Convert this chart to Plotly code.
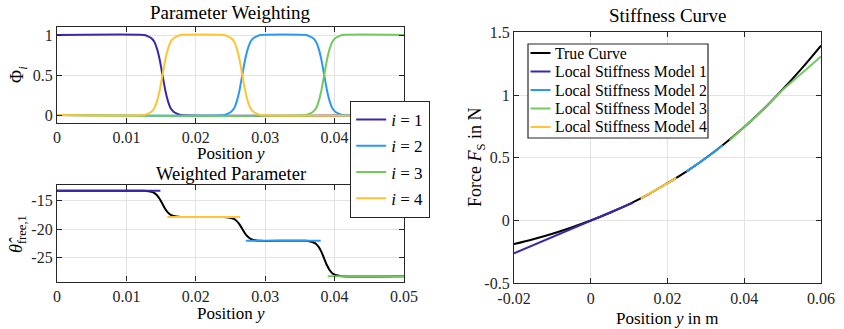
import plotly.graph_objects as go

FONT = "Liberation Serif, DejaVu Serif, serif"
AXC = "#262626"
GRID = "#e3e3e3"
C_PUR = "#3E26A8"
C_BLU = "#2B99F0"
C_GRN = "#72C95E"
C_YEL = "#FEC433"

# ---------------- Parameter Weighting (Phi_i) ----------------
phi1_x = [0, 0.0126, 0.0132, 0.0136, 0.0140, 0.0144, 0.0148, 0.0152, 0.0156, 0.0160, 0.0164, 0.0168, 0.0172, 0.0178, 0.05]
phi1_y = [1, 1, 0.98, 0.96, 0.92, 0.83, 0.69, 0.5, 0.31, 0.17, 0.08, 0.04, 0.02, 0, 0]

phi2_x = [0, 0.0241, 0.0247, 0.0251, 0.0255, 0.0259, 0.0263, 0.0267, 0.0271, 0.0275, 0.0279, 0.0283, 0.0287, 0.0293,
          0.0359, 0.0365, 0.0369, 0.0373, 0.0377, 0.0381, 0.0385, 0.0389, 0.0393, 0.0397, 0.0401, 0.0405, 0.0411, 0.05]
phi2_y = [0, 0, 0.02, 0.04, 0.08, 0.17, 0.31, 0.5, 0.69, 0.83, 0.92, 0.96, 0.98, 1,
          1, 0.98, 0.96, 0.92, 0.83, 0.69, 0.5, 0.31, 0.17, 0.08, 0.04, 0.02, 0, 0]

phi3_x = [0, 0.0359, 0.0365, 0.0369, 0.0373, 0.0377, 0.0381, 0.0385, 0.0389, 0.0393, 0.0397, 0.0401, 0.0405, 0.0411, 0.05]
phi3_y = [0, 0, 0.02, 0.04, 0.08, 0.17, 0.31, 0.5, 0.69, 0.83, 0.92, 0.96, 0.98, 1, 1]

phi4_x = [0, 0.0126, 0.0132, 0.0136, 0.0140, 0.0144, 0.0148, 0.0152, 0.0156, 0.0160, 0.0164, 0.0168, 0.0172, 0.0178,
          0.0241, 0.0247, 0.0251, 0.0255, 0.0259, 0.0263, 0.0267, 0.0271, 0.0275, 0.0279, 0.0283, 0.0287, 0.0293, 0.05]
phi4_y = [0, 0, 0.02, 0.04, 0.08, 0.17, 0.31, 0.5, 0.69, 0.83, 0.92, 0.96, 0.98, 1,
          1, 0.98, 0.96, 0.92, 0.83, 0.69, 0.5, 0.31, 0.17, 0.08, 0.04, 0.02, 0, 0]

# ---------------- Weighted Parameter ----------------
wp_x = [0, 0.0126, 0.0132, 0.0136, 0.0140, 0.0144, 0.0148, 0.0152, 0.0156, 0.0160, 0.0164, 0.0168, 0.0172, 0.0178,
        0.0241, 0.0247, 0.0251, 0.0255, 0.0259, 0.0263, 0.0267, 0.0271, 0.0275, 0.0279, 0.0283, 0.0287, 0.0293,
        0.0359, 0.0365, 0.0369, 0.0373, 0.0377, 0.0381, 0.0385, 0.0389, 0.0393, 0.0397, 0.0401, 0.0405, 0.0411, 0.05]
wp_y = [-13.23, -13.23, -13.32, -13.42, -13.60, -14.02, -14.67, -15.56, -16.44, -17.09, -17.51, -17.69, -17.79, -17.88,
        -17.88, -17.96, -18.05, -18.22, -18.60, -19.19, -19.99, -20.79, -21.38, -21.76, -21.93, -22.02, -22.10,
        -22.10, -22.23, -22.35, -22.60, -23.17, -24.04, -25.24, -26.43, -27.30, -27.87, -28.12, -28.25, -28.37, -28.37]

lvl1_x, lvl1_y = [0, 0.0149], [-13.23, -13.23]
lvl4_x, lvl4_y = [0.0159, 0.0264], [-17.88, -17.88]
lvl2_x, lvl2_y = [0.0272, 0.0380], [-22.10, -22.10]
lvl3_x, lvl3_y = [0.0390, 0.05], [-28.37, -28.37]

# ---------------- Stiffness Curve ----------------
true_x = [-0.02, -0.015, -0.01, -0.005, 0, 0.005, 0.01, 0.015, 0.02, 0.025, 0.03, 0.035, 0.04, 0.045, 0.05, 0.055, 0.06]
true_y = [-0.188, -0.149, -0.105, -0.055, 0, 0.062, 0.131, 0.209, 0.298, 0.392, 0.498, 0.616, 0.745, 0.887, 1.045, 1.213, 1.394]

lsm1_x, lsm1_y = [-0.02, 0.011], [-0.262, 0.142]
lsm4_x, lsm4_y = [0.013, 0.0175, 0.0223], [0.177, 0.252, 0.340]
lsm2_x, lsm2_y = [0.0249, 0.0295, 0.0344], [0.390, 0.487, 0.600]
lsm3_x, lsm3_y = [0.0362, 0.04, 0.045, 0.05, 0.055, 0.06], [0.640, 0.745, 0.886, 1.040, 1.174, 1.307]

top_xticks = [0, 0.01, 0.02, 0.03, 0.04, 0.05]
top_xtext = ["0", "0.01", "0.02", "0.03", "0.04", "0.05"]
top_yticks = [0, 0.5, 1]
top_ytext = ["0", "0.5", "1"]
bot_yticks = [-25, -20, -15]
bot_ytext = ["-25", "-20", "-15"]
r_xticks = [-0.02, 0, 0.02, 0.04, 0.06]
r_xtext = ["-0.02", "0", "0.02", "0.04", "0.06"]
r_yticks = [-0.5, 0, 0.5, 1, 1.5]
r_ytext = ["-0.5", "0", "0.5", "1", "1.5"]

right_legend_names = ["True Curve", "Local Stiffness Model 1", "Local Stiffness Model 2",
                      "Local Stiffness Model 3", "Local Stiffness Model 4"]
right_legend_colors = ["black", C_PUR, C_BLU, C_GRN, C_YEL]

fig = go.Figure()
LW = 2

for i, (xs, ys, col) in enumerate([(phi1_x, phi1_y, C_PUR), (phi2_x, phi2_y, C_BLU),
                                    (phi3_x, phi3_y, C_GRN), (phi4_x, phi4_y, C_YEL)], start=1):
    fig.add_trace(go.Scatter(x=xs, y=ys, mode="lines", line=dict(color=col, width=LW, shape="spline", smoothing=0.5),
                             name=f"<i>i</i> = {i}", legendgroup=f"g{i}", showlegend=True,
                             xaxis="x", yaxis="y"))

fig.add_trace(go.Scatter(x=wp_x, y=wp_y, mode="lines", line=dict(color="black", width=LW, shape="spline", smoothing=0.5),
                         showlegend=False, xaxis="x2", yaxis="y2"))
for xs, ys, col in [(lvl1_x, lvl1_y, C_PUR), (lvl4_x, lvl4_y, C_YEL), (lvl2_x, lvl2_y, C_BLU), (lvl3_x, lvl3_y, C_GRN)]:
    fig.add_trace(go.Scatter(x=xs, y=ys, mode="lines", line=dict(color=col, width=LW),
                             showlegend=False, xaxis="x2", yaxis="y2"))

fig.add_trace(go.Scatter(x=true_x, y=true_y, mode="lines", line=dict(color="black", width=LW, shape="spline"),
                         name=right_legend_names[0], showlegend=False, xaxis="x3", yaxis="y3"))
for k, (xs, ys, col) in enumerate([(lsm1_x, lsm1_y, C_PUR), (lsm2_x, lsm2_y, C_BLU),
                                    (lsm3_x, lsm3_y, C_GRN), (lsm4_x, lsm4_y, C_YEL)], start=1):
    fig.add_trace(go.Scatter(x=xs, y=ys, mode="lines", line=dict(color=col, width=LW, shape="spline"),
                             name=right_legend_names[k], showlegend=False, xaxis="x3", yaxis="y3"))

W, H = 844, 329
def px(v):
    return v / W
def py(v):
    return 1 - v / H

ax_common = dict(showline=True, linecolor=AXC, linewidth=1.2, mirror="ticks", ticks="inside", ticklen=5,
                 tickcolor=AXC, showgrid=True, gridcolor=GRID, gridwidth=1, zeroline=False, automargin=False,
                 tickfont=dict(family=FONT, size=16, color=AXC), tickmode="array")

fig.update_layout(
    template="none",
    width=W, height=H, margin=dict(l=0, r=0, t=0, b=0, pad=0, autoexpand=False),
    paper_bgcolor="white", plot_bgcolor="white",
    font=dict(family=FONT, size=16, color="black"),
    xaxis=dict(domain=[px(57), px(404)], range=[0, 0.05], tickvals=top_xticks, ticktext=top_xtext, anchor="y", **ax_common),
    yaxis=dict(domain=[py(123), py(27)], range=[-0.1, 1.1], tickvals=top_yticks, ticktext=top_ytext, anchor="x", **ax_common),
    xaxis2=dict(domain=[px(57), px(404)], range=[0, 0.05], tickvals=top_xticks, ticktext=top_xtext, anchor="y2", **ax_common),
    yaxis2=dict(domain=[py(281.5), py(185)], range=[-29.3, -12.2], tickvals=bot_yticks, ticktext=bot_ytext, anchor="x2", **ax_common),
    xaxis3=dict(domain=[px(514), px(821)], range=[-0.02, 0.06], tickvals=r_xticks, ticktext=r_xtext, anchor="y3", **ax_common),
    yaxis3=dict(domain=[py(283.3), py(32.3)], range=[-0.5, 1.5], tickvals=r_yticks, ticktext=r_ytext, anchor="x3", **ax_common),
    legend=dict(x=px(350), y=py(100.7), xanchor="left", yanchor="top", bgcolor="white", bordercolor=AXC, borderwidth=1.2,
                font=dict(family=FONT, size=17, color="black"), tracegroupgap=1.2, itemwidth=30),
    showlegend=True,
)

ann = []
def txt(x, y, s, size=16, angle=0, xanchor="center"):
    ann.append(dict(x=px(x), y=py(y), xref="paper", yref="paper", text=s, showarrow=False,
                    font=dict(family=FONT, size=size, color="black"), textangle=angle,
                    xanchor=xanchor, yanchor="middle"))

txt(230.5, 12, "Parameter Weighting", 19)
txt(230.5, 173.5, "Weighted Parameter", 18.5)
txt(667.5, 15, "Stiffness Curve", 19)
txt(230.5, 153.5, "Position <i>y</i>", 17)
txt(230.5, 313, "Position <i>y</i>", 17)
txt(667.5, 318, "Position <i>y</i> in m", 17)
txt(18, 75, "Φ<sub><i>i</i></sub>", 18, -90)
txt(17, 234, "<i>θ̂</i><sub>free,1</sub>", 18, -90)
txt(476, 157, "Force <i>F</i><sub>S</sub> in N", 18, -90)

# manual legend for the stiffness-curve panel
shapes = [dict(type="rect", xref="paper", yref="paper", x0=px(528), x1=px(708), y0=py(138), y1=py(44),
               line=dict(color=AXC, width=1.2), fillcolor="white", layer="above")]
row_y = [53, 71.5, 90, 108.5, 127]
for name, col, yy in zip(right_legend_names, right_legend_colors, row_y):
    shapes.append(dict(type="line", xref="paper", yref="paper", x0=px(530.5), x1=px(550.5), y0=py(yy), y1=py(yy),
                       line=dict(color=col, width=2), layer="above"))
    txt(553, yy, name, 15.8, 0, "left")

fig.update_layout(annotations=ann, shapes=shapes)

fig.write_html("out.html")
